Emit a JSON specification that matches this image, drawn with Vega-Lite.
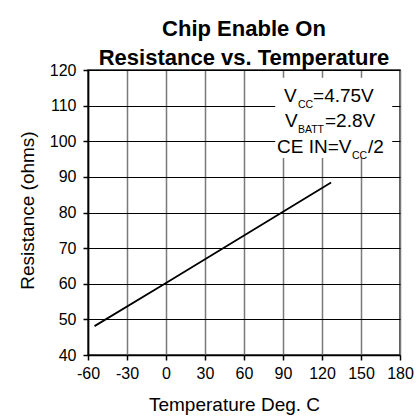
{
  "$schema": "https://vega.github.io/schema/vega-lite/v6.json",
  "width": 312,
  "height": 285,
  "autosize": {"type": "none"},
  "padding": {"left": 88, "top": 70, "right": 19, "bottom": 63},
  "background": "white",
  "title": {
    "text": ["Chip Enable On", "Resistance vs. Temperature"],
    "font": "Liberation Sans",
    "fontSize": 22,
    "fontWeight": "bold",
    "color": "black",
    "anchor": "middle",
    "lineHeight": 29,
    "offset": -8
  },
  "config": {
    "view": {"stroke": "#222222", "strokeWidth": 1.5},
    "axis": {
      "labelFont": "Liberation Sans",
      "labelFontSize": 16,
      "labelColor": "black",
      "labelOverlap": false,
      "labelFlush": false,
      "titleFont": "Liberation Sans",
      "titleFontSize": 19,
      "titleFontWeight": "normal",
      "titleColor": "black",
      "domainColor": "black",
      "domainWidth": 1.5,
      "tickColor": "black",
      "tickSize": 5,
      "tickWidth": 1.5
    }
  },
  "datasets": {
    "curve": [
      {"x": -55, "y": 48.1},
      {"x": 0, "y": 60.2},
      {"x": 127, "y": 88.4}
    ],
    "box": [
      {"x": 84, "x2": 174, "y": 95.3, "y2": 117.8}
    ],
    "main": [
      {"x": 90.8, "y": 111.0, "t": "V"},
      {"x": 113.1, "y": 111.0, "t": "=4.75V"},
      {"x": 91.5, "y": 104.0, "t": "V"},
      {"x": 122.3, "y": 104.0, "t": "=2.8V"},
      {"x": 85.4, "y": 96.7, "t": "CE IN=V"},
      {"x": 155.4, "y": 96.7, "t": "/2"}
    ],
    "sub": [
      {"x": 101.5, "y": 109.2, "t": "CC"},
      {"x": 101.5, "y": 102.2, "t": "BATT"},
      {"x": 143.1, "y": 94.9, "t": "CC"}
    ]
  },
  "encoding": {
    "x": {
      "field": "x",
      "type": "quantitative",
      "scale": {"domain": [-60, 180], "nice": false},
      "axis": {
        "values": [-60, -30, 0, 30, 60, 90, 120, 150, 180],
        "labelExpr": "toString(datum.value)",
        "title": "Temperature Deg. C",
        "gridColor": "#7a7a7a",
        "gridWidth": 1.5,
        "gridOpacity": 1,
        "labelPadding": 5,
        "titleX": 146,
        "titleY": 55,
        "titleAlign": "center",
        "titleBaseline": "alphabetic"
      }
    },
    "y": {
      "field": "y",
      "type": "quantitative",
      "scale": {"domain": [40, 120], "nice": false},
      "axis": {
        "values": [40, 50, 60, 70, 80, 90, 100, 110, 120],
        "title": "Resistance (ohms)",
        "gridColor": "black",
        "gridWidth": 1,
        "gridOpacity": 1,
        "labelPadding": 7,
        "titleX": -55,
        "titleY": 140,
        "titleAngle": -90,
        "titleAlign": "center",
        "titleBaseline": "alphabetic"
      }
    }
  },
  "layer": [
    {
      "data": {"name": "curve"},
      "mark": {"type": "line", "color": "black", "strokeWidth": 1.8}
    },
    {
      "data": {"name": "box"},
      "mark": {"type": "rect", "color": "white"},
      "encoding": {
        "x2": {"field": "x2"},
        "y2": {"field": "y2"}
      }
    },
    {
      "data": {"name": "main"},
      "mark": {"type": "text", "font": "Liberation Sans", "fontSize": 19, "align": "left", "baseline": "alphabetic", "color": "black"},
      "encoding": {
        "text": {"field": "t"}
      }
    },
    {
      "data": {"name": "sub"},
      "mark": {"type": "text", "font": "Liberation Sans", "fontSize": 10.5, "align": "left", "baseline": "alphabetic", "color": "black"},
      "encoding": {
        "text": {"field": "t"}
      }
    }
  ]
}
